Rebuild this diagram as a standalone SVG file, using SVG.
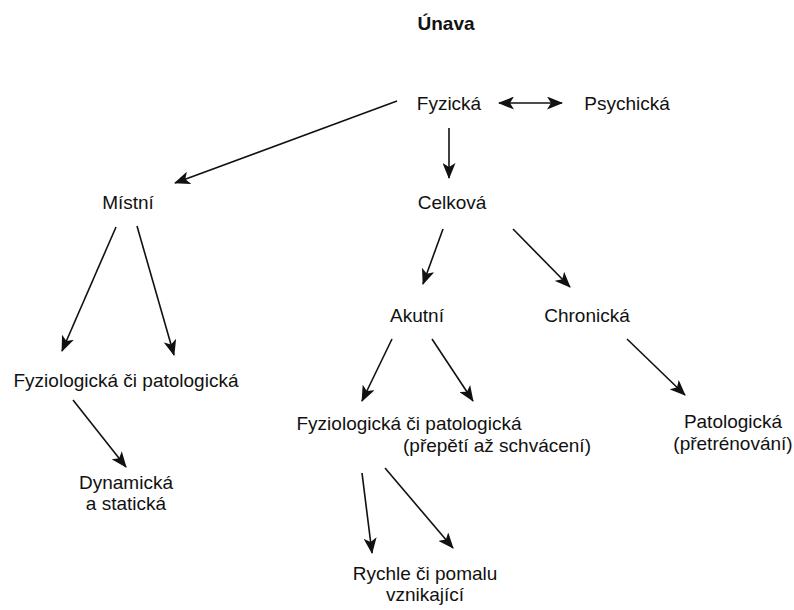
<svg xmlns="http://www.w3.org/2000/svg" width="794" height="610" viewBox="0 0 794 610">
<style>
  text { font-family: "Liberation Sans", Arial, sans-serif; font-size: 19px; fill: #111; text-anchor: middle; }
  .title { font-weight: bold; }
  .edge { stroke: #111; stroke-width: 1.6; fill: none; marker-end: url(#ah); }
</style>
<defs>
  <marker id="ah" markerUnits="userSpaceOnUse" markerWidth="16" markerHeight="13" refX="15" refY="6.5" orient="auto-start-reverse" viewBox="0 0 16 13">
    <path d="M0,0 L16,6.5 L0,13 L4,6.5 Z" fill="#111"/>
  </marker>
</defs>
<rect width="794" height="610" fill="#fff"/>
<g id="unava"><text class="title" x="446" y="30">Únava</text></g>
<g id="fyzicka"><text x="449" y="110">Fyzická</text></g>
<g id="psychicka"><text x="627" y="110">Psychická</text></g>
<g id="mistni"><text x="128" y="209">Místní</text></g>
<g id="celkova"><text x="452" y="209">Celková</text></g>
<g id="fyz-pat-1"><text x="126" y="387">Fyziologická či patologická</text></g>
<g id="dynamicka"><text x="126" y="489">Dynamická</text><text x="126" y="510">a statická</text></g>
<g id="akutni"><text x="417" y="322">Akutní</text></g>
<g id="chronicka"><text x="587" y="322">Chronická</text></g>
<g id="fyz-pat-2"><text x="409" y="430">Fyziologická či patologická</text><text x="497" y="452">(přepětí až schvácení)</text></g>
<g id="patologicka"><text x="733" y="428">Patologická</text><text x="733" y="450">(přetrénování)</text></g>
<g id="rychle"><text x="425" y="580">Rychle či pomalu</text><text x="425" y="601">vznikající</text></g>
<g id="connectors">
  <line class="edge" x1="499" y1="103" x2="562" y2="103" style="marker-start:url(#ah)"/>
  <line class="edge" x1="397" y1="101" x2="175" y2="183"/>
  <line class="edge" x1="449" y1="128" x2="449" y2="178"/>
  <line class="edge" x1="116" y1="227" x2="62" y2="351"/>
  <line class="edge" x1="137" y1="226" x2="174" y2="355"/>
  <line class="edge" x1="73" y1="400" x2="126" y2="467"/>
  <line class="edge" x1="443" y1="229" x2="423" y2="284"/>
  <line class="edge" x1="513" y1="229" x2="570" y2="287"/>
  <line class="edge" x1="392" y1="339" x2="362" y2="401"/>
  <line class="edge" x1="432" y1="339" x2="473" y2="401"/>
  <line class="edge" x1="362" y1="473" x2="372" y2="553"/>
  <line class="edge" x1="385" y1="468" x2="453" y2="548"/>
  <line class="edge" x1="627" y1="339" x2="685" y2="395"/>
</g>
</svg>
